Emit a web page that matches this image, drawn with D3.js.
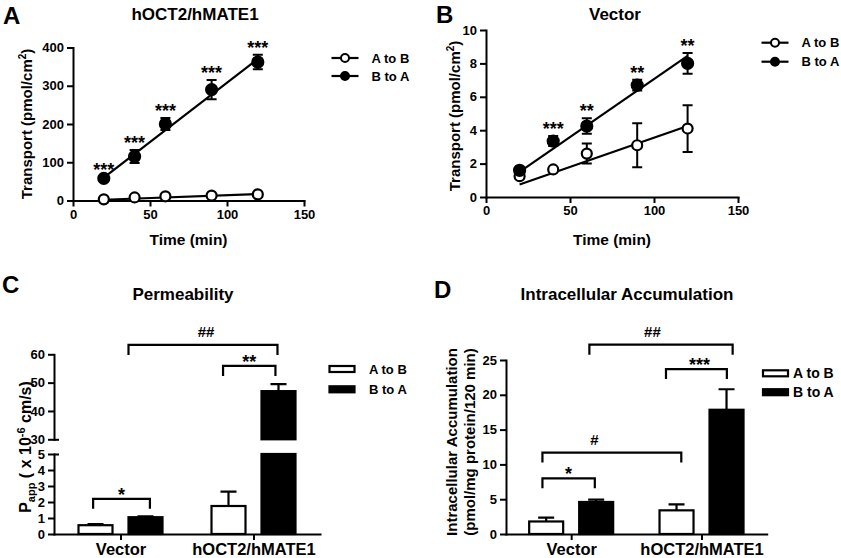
<!DOCTYPE html>
<html><head><meta charset="utf-8">
<script src="https://cdn.jsdelivr.net/npm/d3@7"></script>
<style>
body{margin:0;background:#fff}
svg{display:block;background:#fff}
</style></head><body>
<script>
// ---------------- data ----------------
const timeMin = [20, 40, 60, 90, 120];
const timeTicks = [0, 50, 100, 150];
const seriesNames = ["A to B", "B to A"];

// Panel A: hOCT2/hMATE1 transport (pmol/cm2)
const hoctAtoB = [3, 8, 11, 13, 16];
const hoctAtoBErr = [1, 1.5, 2, 2, 2];
const hoctBtoA = [58, 115, 200, 290, 362];
const hoctBtoAErr = [4, 17, 16, 25, 19];
const hoctFitAtoB = [2, 17];      // fitted line at first / last time point
const hoctFitBtoA = [60, 370];
const hoctStars = ["***", "***", "***", "***", "***"];
const hoctYTicks = [0, 100, 200, 300, 400];

// Panel B: Vector transport (pmol/cm2)
const vecAtoB = [1.25, 1.65, 2.6, 3.1, 4.1];
const vecAtoBErr = [0.1, 0.1, 0.6, 1.32, 1.4];
const vecBtoA = [1.6, 3.35, 4.25, 6.7, 8.0];
const vecBtoAErr = [0.1, 0.3, 0.47, 0.32, 0.62];
const vecFitAtoB = [0.75, 4.25];
const vecFitBtoA = [1.5, 8.45];
const vecStars = ["", "***", "**", "**", "**"];
const vecYTicks = [0, 2, 4, 6, 8, 10];

// Panel C: Permeability (x10^-6 cm/s)
const groups = ["Vector", "hOCT2/hMATE1"];
const permAtoB = [0.55, 1.75];
const permAtoBErr = [0.07, 0.9];
const permBtoA = [1.05, 47];
const permBtoAErr = [0.05, 2.5];
const permLowTicks = [0, 1, 2, 3, 4, 5];
const permHighTicks = [30, 40, 50, 60];
const permBrackets = [
  {label: "*",  from: [0, 0], to: [0, 1], level: 2.2},
  {label: "**", from: [1, 0], to: [1, 1], level: 55.9},
  {label: "##", from: [0, 1], to: [1, 1], level: 63.3}
];

// Panel D: Intracellular accumulation (pmol/mg protein/120 min)
const accAtoB = [1.8, 3.4];
const accAtoBErr = [0.55, 0.85];
const accBtoA = [4.6, 17.85];
const accBtoAErr = [0.35, 2.95];
const accTicks = [0, 5, 10, 15, 20, 25];
const accBrackets = [
  {label: "*",   from: [0, 0], to: [0, 1], level: 8.0},
  {label: "#",   from: [0, 0], to: [1, 0], level: 11.7},
  {label: "***", from: [1, 0], to: [1, 1], level: 23.7},
  {label: "##",  from: [0, 1], to: [1, 1], level: 27.2}
];

// ---------------- drawing ----------------
const FONT = '"Liberation Sans", Arial, Helvetica, sans-serif';
const fmtInt = d3.format("d");
const svg = d3.select("body").append("svg").attr("width", 841).attr("height", 558);

function txt(g, x, y, s, size, anchor) {
  return g.append("text").attr("x", x).attr("y", y).text(s)
    .attr("font-family", FONT).attr("font-weight", "bold")
    .attr("font-size", size).attr("text-anchor", anchor || "start").attr("fill", "#000");
}
function styleAxis(g, size) {
  g.selectAll("path.domain").attr("stroke", "#000").attr("stroke-width", 2).attr("stroke-linecap", "square");
  g.selectAll(".tick line").attr("stroke", "#000").attr("stroke-width", 2);
  g.selectAll(".tick text").attr("font-family", FONT).attr("font-weight", "bold")
    .attr("font-size", size).attr("fill", "#000");
}

// ---- XY panels ----
function xyPanel(p) {
  const g = svg.append("g");
  const x = d3.scaleLinear().domain([0, 150]).range(p.xr);
  const y = d3.scaleLinear().domain([0, p.yTicks[p.yTicks.length - 1]]).range(p.yr);
  const ax = g.append("g").attr("transform", `translate(0,${p.yr[0]})`)
    .call(d3.axisBottom(x).tickValues(timeTicks).tickFormat(fmtInt).tickSize(6).tickSizeOuter(0).tickPadding(3));
  styleAxis(ax, 13);
  const ay = g.append("g").attr("transform", `translate(${p.xr[0]},0)`)
    .call(d3.axisLeft(y).tickValues(p.yTicks).tickFormat(fmtInt).tickSize(6).tickSizeOuter(0).tickPadding(3));
  styleAxis(ay, 13);

  const line = d3.line().x(d => x(d[0])).y(d => y(d[1]));
  p.series.forEach(s => {
    const pts = [[timeMin[0], s.fit[0]], [timeMin[timeMin.length - 1], s.fit[1]]];
    g.append("path").attr("d", line(pts)).attr("fill", "none").attr("stroke", "#000").attr("stroke-width", 2.2);
  });
  p.series.forEach(s => {
    timeMin.forEach((t, i) => {
      const cx = x(t), y1 = y(s.vals[i] - s.errs[i]), y2 = y(s.vals[i] + s.errs[i]);
      g.append("path").attr("d", `M${cx},${y1}V${y2}M${cx - 5},${y1}H${cx + 5}M${cx - 5},${y2}H${cx + 5}`)
        .attr("stroke", "#000").attr("stroke-width", 2).attr("fill", "none");
    });
  });
  p.series.forEach(s => {
    timeMin.forEach((t, i) => {
      g.append("circle").attr("cx", x(t)).attr("cy", y(s.vals[i])).attr("r", s.filled ? 5.5 : 5)
        .attr("fill", s.filled ? "#000" : "#fff").attr("stroke", "#000").attr("stroke-width", 2.2);
    });
  });
  const sS = p.series[p.starSeries];
  p.stars.forEach((st, i) => {
    if (!st) return;
    txt(g, x(timeMin[i]), y(sS.vals[i] + sS.errs[i]) - 1, st, 18, "middle");
  });
  // legend
  p.series.forEach((s, i) => {
    const ly = p.legY[i];
    g.append("line").attr("x1", p.legX).attr("x2", p.legX + 27).attr("y1", ly).attr("y2", ly)
      .attr("stroke", "#000").attr("stroke-width", 2.2);
    g.append("circle").attr("cx", p.legX + 13.5).attr("cy", ly).attr("r", 4)
      .attr("fill", s.filled ? "#000" : "#fff").attr("stroke", "#000").attr("stroke-width", 2);
    txt(g, p.legX + 40, ly + 4.5, seriesNames[i], 13);
  });
  // labels
  txt(g, (p.xr[0] + p.xr[1]) / 2, 245, "Time (min)", 15.5, "middle");
  const yl = txt(g, 0, 0, "Transport (pmol/cm", 15, "middle")
    .attr("transform", `translate(${p.ylabX},${p.ylabY}) rotate(-90)`);
  yl.append("tspan").attr("font-size", 10).attr("dy", -6).text("2");
  yl.append("tspan").attr("dy", 6).text(")");
  txt(g, p.titleX, 20, p.title, 17, "middle");
  txt(g, p.letterX, p.letterY, p.letter, 24);
}

xyPanel({
  xr: [73, 304], yr: [200.5, 47.5], yTicks: hoctYTicks,
  series: [
    {vals: hoctAtoB, errs: hoctAtoBErr, fit: hoctFitAtoB, filled: false},
    {vals: hoctBtoA, errs: hoctBtoAErr, fit: hoctFitBtoA, filled: true}
  ],
  stars: hoctStars, starSeries: 1,
  legX: 331.5, legY: [58, 76],
  ylabX: 32, ylabY: 124, title: "hOCT2/hMATE1", titleX: 195,
  letter: "A", letterX: 3, letterY: 24
});
xyPanel({
  xr: [486, 738], yr: [197, 30], yTicks: vecYTicks,
  series: [
    {vals: vecAtoB, errs: vecAtoBErr, fit: vecFitAtoB, filled: false},
    {vals: vecBtoA, errs: vecBtoAErr, fit: vecFitBtoA, filled: true}
  ],
  stars: vecStars, starSeries: 1,
  legX: 761.5, legY: [42.7, 61.7],
  ylabX: 460, ylabY: 116, title: "Vector", titleX: 615,
  letter: "B", letterX: 436, letterY: 22.5
});

// ---- bar panels ----
const sub = d3.scaleBand().domain(seriesNames).range([-42, 42]).paddingInner(0.32);

function barPanel(p) {
  const g = svg.append("g");
  const x = d3.scalePoint().domain(groups).range(p.xr).padding(0.5);
  const bx = (gi, si) => x(groups[gi]) + sub(seriesNames[si]);
  const bw = sub.bandwidth();
  const yLow = p.yLow, yHigh = p.yHigh;
  const series = [[p.a, p.ae], [p.b, p.be]];
  const lowMax = yLow.domain()[1];

  series.forEach((s, si) => {
    s[0].forEach((v, gi) => {
      const filled = si === 1;
      const fill = filled ? "#000" : "#fff";
      const x0 = bx(gi, si);
      let errScale;
      if (yHigh && v > yHigh.domain()[0]) {
        g.append("rect").attr("x", x0).attr("width", bw).attr("y", yLow(lowMax))
          .attr("height", yLow(0) - yLow(lowMax)).attr("fill", fill).attr("stroke", "#000").attr("stroke-width", 2.2);
        g.append("rect").attr("x", x0).attr("width", bw).attr("y", yHigh(v))
          .attr("height", yHigh(yHigh.domain()[0]) - yHigh(v)).attr("fill", fill).attr("stroke", "#000").attr("stroke-width", 2.2);
        errScale = yHigh;
      } else {
        g.append("rect").attr("x", x0).attr("width", bw).attr("y", yLow(v))
          .attr("height", yLow(0) - yLow(v)).attr("fill", fill).attr("stroke", "#000").attr("stroke-width", 2.2);
        errScale = yLow;
      }
      const cx = x0 + bw / 2, y1 = errScale(v), y2 = errScale(v + s[1][gi]);
      g.append("path").attr("d", `M${cx},${y1}V${y2}M${cx - 8},${y2}H${cx + 8}`)
        .attr("stroke", "#000").attr("stroke-width", 2.2).attr("fill", "none");
    });
  });

  // axes
  const ax = g.append("g").attr("transform", `translate(0,${yLow(0)})`)
    .call(d3.axisBottom(x).tickSize(6).tickSizeOuter(0).tickPadding(3));
  styleAxis(ax, 16.5);
  const ayl = g.append("g").attr("transform", `translate(${p.xr[0]},0)`)
    .call(d3.axisLeft(yLow).tickValues(p.lowTicks).tickFormat(fmtInt).tickSize(6).tickSizeOuter(0).tickPadding(3));
  styleAxis(ayl, 13);
  if (yHigh) {
    const ayh = g.append("g").attr("transform", `translate(${p.xr[0]},0)`)
      .call(d3.axisLeft(yHigh).tickValues(p.highTicks).tickFormat(fmtInt).tickSize(6).tickSizeOuter(0).tickPadding(3));
    styleAxis(ayh, 13);
    [yHigh(yHigh.domain()[0]), yLow(lowMax)].forEach(yy => {
      g.append("line").attr("x1", p.xr[0]).attr("x2", p.xr[0] + 5).attr("y1", yy + 0.5).attr("y2", yy + 0.5)
        .attr("stroke", "#000").attr("stroke-width", 2);
    });
  }

  // significance brackets
  p.brackets.forEach(b => {
    const an = p.anchors[b.label];
    const x1 = bx(b.from[0], b.from[1]) + bw * an[0];
    const x2 = bx(b.to[0], b.to[1]) + bw * an[1];
    const sc = (yHigh && b.level > lowMax) ? yHigh : yLow;
    const yt = sc(b.level);
    g.append("path").attr("d", `M${x1},${yt + 10}V${yt}H${x2}V${yt + 10}`)
      .attr("fill", "none").attr("stroke", "#000").attr("stroke-width", 2.2);
    const tx = x1 + (x2 - x1) * an[2];
    if (b.label.startsWith("#")) txt(g, tx, yt - 8, b.label, 15, "middle");
    else txt(g, tx, yt + 2, b.label, 18, "middle");
  });

  // legend
  seriesNames.forEach((n, i) => {
    const ly = p.legY[i];
    g.append("rect").attr("x", p.legX).attr("y", ly - 3).attr("width", 25).attr("height", 6)
      .attr("fill", i === 1 ? "#000" : "#fff").attr("stroke", "#000").attr("stroke-width", 2.2);
    txt(g, p.legTextX, ly + 5, n, p.legFont);
  });

  txt(g, p.titleX, 300, p.title, 17, "middle");
  txt(g, p.letterX, p.letterY, p.letter, 24);
  return g;
}

const gC = barPanel({
  xr: [54, 320],
  yLow: d3.scaleLinear().domain([0, 5]).range([534, 454]),
  yHigh: d3.scaleLinear().domain([30, 60]).range([439.3, 354.3]),
  lowTicks: permLowTicks, highTicks: permHighTicks,
  a: permAtoB, ae: permAtoBErr, b: permBtoA, be: permBtoAErr,
  brackets: permBrackets,
  anchors: {"*": [0.43, 0.63, 0.5], "**": [0.34, 0.41, 0.5], "##": [0.0, 0.47, 0.52]},
  legX: 329.5, legTextX: 369, legY: [369, 389.3], legFont: 13,
  title: "Permeability", titleX: 183, letter: "C", letterX: 2, letterY: 293
});
{
  const yl = txt(gC, 0, 0, "P", 16, "middle").attr("transform", "translate(31,447) rotate(-90)");
  yl.append("tspan").attr("font-size", 11).attr("dy", 4).text("app");
  yl.append("tspan").attr("font-size", 16).attr("dy", -4).text(" ( x 10");
  yl.append("tspan").attr("font-size", 11).attr("dy", -6).text("-6");
  yl.append("tspan").attr("font-size", 16).attr("dy", 6).text(" cm/s)");
}

const gD = barPanel({
  xr: [506, 766.7],
  yLow: d3.scaleLinear().domain([0, 25]).range([534, 360]),
  yHigh: null,
  lowTicks: accTicks,
  a: accAtoB, ae: accAtoBErr, b: accBtoA, be: accBtoAErr,
  brackets: accBrackets,
  anchors: {"*": [0.39, 0.46, 0.5], "#": [0.39, 0.64, 0.375], "***": [0.19, 0.51, 0.55], "##": [0.3, 0.68, 0.44]},
  legX: 763, legTextX: 793, legY: [373.3, 392.2], legFont: 14,
  title: "Intracellular Accumulation", titleX: 627, letter: "D", letterX: 434, letterY: 298
});
txt(gD, 0, 0, "Intracellular Accumulation", 15, "middle").attr("transform", "translate(457,442) rotate(-90)");
txt(gD, 0, 0, "(pmol/mg protein/120 min)", 15, "middle").attr("transform", "translate(475,442) rotate(-90)");
</script>
</body></html>
